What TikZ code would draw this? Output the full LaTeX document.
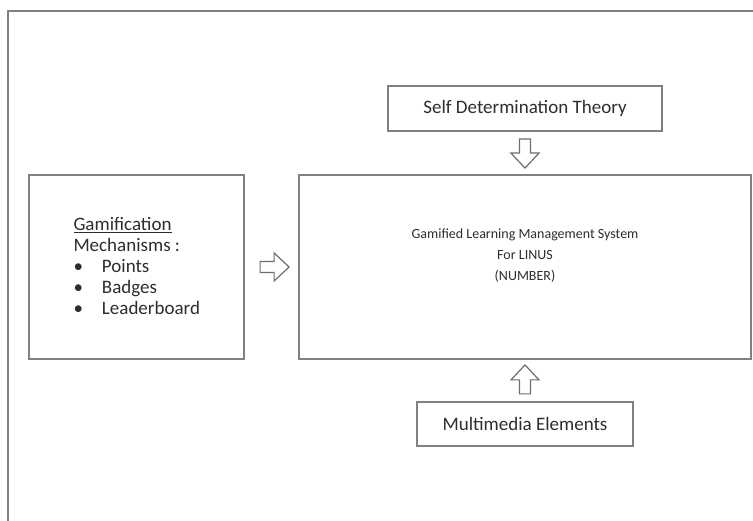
\documentclass[tikz,border=0pt]{standalone}
\usepackage{fontspec}
\setmainfont{Carlito}
\usetikzlibrary{positioning,calc}
\definecolor{boxgray}{RGB}{128,128,128}
\definecolor{inkgray}{RGB}{45,45,45}
\newcommand{\bodyfont}{\fontsize{19}{21}\selectfont}
\newcommand{\smallbodyfont}{\fontsize{14}{21}\selectfont}
\tikzset{
    box/.style={draw=boxgray, line width=1.8pt, inner sep=0pt, text=inkgray, font=\bodyfont, align=center},
    label text/.style={inner sep=0pt, text=inkgray, font=\bodyfont, align=center},
    arrowline/.style={draw=boxgray!85!black, line width=1.2pt, line join=miter},
    blockarrow/.pic={
        \draw[arrowline] (0,-5.5) -- (14,-5.5) -- (14,-14) -- (29,0) -- (14,14) -- (14,5.5) -- (0,5.5) -- cycle;
    }
}

\begin{document}
\begin{tikzpicture}[x=1pt, y=-1pt]
    \useasboundingbox (0,0) rectangle (753,521);

    % Frame
    \draw[boxgray, line width=1.8pt] (8,521) -- (8,11) -- (753,11);

    % Boxes
    \node[box, minimum width=452pt, minimum height=184pt] (lms) at (525,267) {};
    \node[box, minimum width=274pt, minimum height=45pt, above=42pt of lms] (sdt) {Self Determination Theory};
    \node[box, minimum width=216pt, minimum height=44pt, below=41pt of lms] (media) {Multimedia Elements};
    \node[box, minimum width=215pt, minimum height=184pt, left=53pt of lms] (gami) {};

    % Texts
    \node[label text, font=\smallbodyfont] (lmstext) at ($(lms.center)+(0,-11)$) {Gamified Learning Management System\\For LINUS\\(NUMBER)};
    \node[label text, anchor=north west, align=left] (gamitext) at ($(gami.north west)+(45,42)$) {%
        \begin{tabular}[t]{@{}l@{\hspace{19pt}}l@{}}
            \multicolumn{2}{@{}l@{}}{\underline{Gamification}}\\
            \multicolumn{2}{@{}l@{}}{Mechanisms :}\\
            \textbullet & Points\\
            \textbullet & Badges\\
            \textbullet & Leaderboard
        \end{tabular}};

    % Block arrows
    \pic at ($(gami.east)+(15,0)$) {blockarrow};
    \pic[rotate=-90] at ($(sdt.south)+(0,7)$) {blockarrow};
    \pic[rotate=90] at ($(media.north)+(0,-7)$) {blockarrow};
\end{tikzpicture}
\end{document}
